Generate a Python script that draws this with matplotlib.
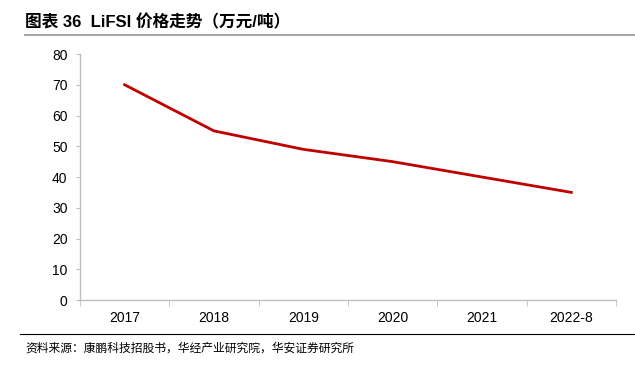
import matplotlib
matplotlib.use("Agg")
import matplotlib.pyplot as plt
from matplotlib.lines import Line2D
import numpy as np

categories = ["2017", "2018", "2019", "2020", "2021", "2022-8"]
prices = [70, 55, 49, 45, 40, 35]
yticks = [0, 10, 20, 30, 40, 50, 60, 70, 80]

title = "图表 36  LiFSI 价格走势（万元/吨）"
source = "资料来源：康鹏科技招股书，华经产业研究院，华安证券研究所"

cjk = ["Noto Sans CJK SC", "DejaVu Sans"]
mixed = ["Liberation Sans", "Noto Sans CJK SC"]
num_font = "Liberation Sans"
grey = "#BFBFBF"

fig = plt.figure(figsize=(6.35, 3.65), dpi=100)
ax = fig.add_axes([0.126, 0.178, 0.844, 0.674])

x = np.arange(len(categories))
ax.plot(x, prices, color="#C00000", lw=2)

ax.set_xlim(-0.5, len(categories) - 0.5)
ax.set_ylim(0, 80)
ax.set_yticks(yticks)
ax.set_yticklabels([str(v) for v in yticks], fontfamily=num_font, fontsize=10)
ax.set_xticks(x)
ax.set_xticklabels(categories, fontfamily=num_font, fontsize=10)
ax.set_xticks(np.arange(len(categories) + 1) - 0.5, minor=True)

ax.tick_params(axis="y", length=3, color=grey, pad=6)
ax.tick_params(axis="x", which="major", length=0, pad=8)
ax.tick_params(axis="x", which="minor", length=4, color=grey)

for s in ["top", "right"]:
    ax.spines[s].set_visible(False)
for s in ["left", "bottom"]:
    ax.spines[s].set_color(grey)
    ax.spines[s].set_linewidth(1)

# title and underline
fig.text(25 / 635, 1 - 22 / 365, title, fontfamily=mixed, fontsize=12,
         fontweight="bold", va="center", ha="left")
fig.add_artist(Line2D([25 / 635, 1.0], [1 - 35 / 365] * 2, color="#A6A6A6",
                      lw=1.5, transform=fig.transFigure))

# source line and text
fig.add_artist(Line2D([20 / 635, 1.0], [1 - 334 / 365] * 2, color="black",
                      lw=0.8, transform=fig.transFigure))
fig.text(25 / 635, 1 - 348 / 365, source, fontfamily=cjk, fontsize=8.5,
         va="center", ha="left")

fig.savefig("out.png", dpi=100)
